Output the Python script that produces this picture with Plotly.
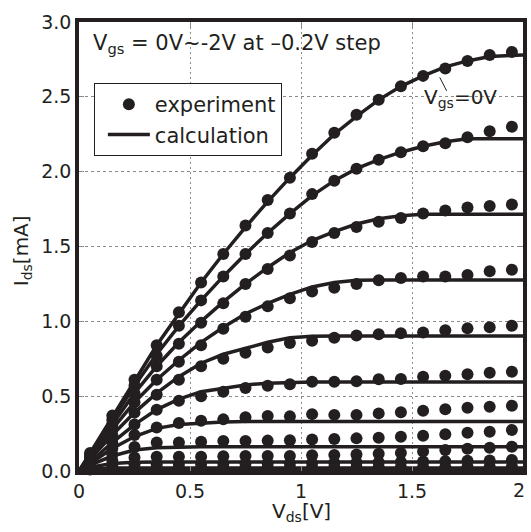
import plotly.graph_objects as go

# ---------------- data ----------------
vds_exp = [0.05, 0.15, 0.25, 0.35, 0.45, 0.55, 0.65, 0.75, 0.85, 0.95,
           1.05, 1.15, 1.25, 1.35, 1.45, 1.55, 1.65, 1.75, 1.85, 1.95]
vds_calc = [0.0, 0.05, 0.15, 0.25, 0.35, 0.45, 0.55, 0.65, 0.75, 0.85, 0.95,
            1.05, 1.15, 1.25, 1.35, 1.45, 1.55, 1.65, 1.75, 1.85, 1.95, 2.0]
vgs_labels = ["0V", "-0.2V", "-0.4V", "-0.6V", "-0.8V", "-1.0V",
              "-1.2V", "-1.4V", "-1.6V", "-1.8V", "-2.0V"]
x_ticks = [0, 0.5, 1, 1.5, 2]
x_tick_text = ["0", "0.5", "1", "1.5", "2"]
y_ticks = [0, 0.5, 1.0, 1.5, 2.0, 2.5, 3.0]

exp_0 = [0.12, 0.37, 0.61, 0.84, 1.06, 1.26, 1.45, 1.64, 1.81, 1.96,
         2.12, 2.26, 2.38, 2.48, 2.57, 2.64, 2.69, 2.74, 2.78, 2.80]
exp_1 = [0.11, 0.34, 0.57, 0.77, 0.97, 1.14, 1.30, 1.45, 1.59, 1.72,
         1.85, 1.94, 2.02, 2.08, 2.13, 2.17, 2.19, 2.23, 2.27, 2.30]
exp_2 = [0.10, 0.31, 0.52, 0.70, 0.85, 0.99, 1.12, 1.25, 1.35, 1.44,
         1.53, 1.59, 1.63, 1.665, 1.69, 1.72, 1.74, 1.76, 1.77, 1.78]
exp_3 = [0.09, 0.28, 0.46, 0.61, 0.73, 0.84, 0.95, 1.03, 1.10, 1.155,
         1.20, 1.225, 1.25, 1.275, 1.29, 1.30, 1.30, 1.31, 1.335, 1.345]
exp_4 = [0.08, 0.24, 0.39, 0.51, 0.61, 0.70, 0.75, 0.79, 0.825, 0.855,
         0.87, 0.89, 0.905, 0.913, 0.92, 0.926, 0.94, 0.953, 0.96, 0.97]
exp_5 = [0.06, 0.19, 0.31, 0.41, 0.47, 0.50, 0.53, 0.555, 0.57, 0.58,
         0.597, 0.597, 0.60, 0.613, 0.615, 0.63, 0.637, 0.646, 0.657, 0.663]
exp_6 = [0.05, 0.15, 0.24, 0.29, 0.32, 0.336, 0.345, 0.359, 0.367, 0.365,
         0.38, 0.375, 0.375, 0.385, 0.392, 0.403, 0.412, 0.423, 0.43, 0.436]
exp_7 = [0.04, 0.11, 0.16, 0.19, 0.19, 0.196, 0.20, 0.20, 0.203, 0.205,
         0.21, 0.214, 0.218, 0.222, 0.229, 0.236, 0.245, 0.256, 0.263, 0.274]
exp_8 = [0.03, 0.07, 0.09, 0.095, 0.096, 0.096, 0.098, 0.10, 0.10, 0.10,
         0.105, 0.107, 0.11, 0.115, 0.12, 0.13, 0.14, 0.148, 0.155, 0.162]
exp_9 = [0.02, 0.035, 0.045, 0.045, 0.046, 0.047, 0.048, 0.05, 0.05, 0.051,
         0.053, 0.055, 0.057, 0.059, 0.061, 0.063, 0.066, 0.068, 0.070, 0.073]
exp_10 = [0.01, 0.015, 0.018, 0.02, 0.02, 0.02, 0.021, 0.021, 0.022, 0.022,
          0.023, 0.023, 0.024, 0.025, 0.025, 0.026, 0.027, 0.028, 0.029, 0.03]

calc_0 = [0.0, 0.12, 0.37, 0.61, 0.84, 1.05, 1.26, 1.45, 1.63, 1.80, 1.96,
          2.11, 2.25, 2.37, 2.48, 2.57, 2.64, 2.70, 2.74, 2.77, 2.78, 2.78]
calc_1 = [0.0, 0.11, 0.34, 0.57, 0.78, 0.97, 1.14, 1.30, 1.45, 1.59, 1.72,
          1.84, 1.94, 2.02, 2.08, 2.13, 2.17, 2.20, 2.22, 2.22, 2.22, 2.22]
calc_2 = [0.0, 0.10, 0.31, 0.52, 0.70, 0.86, 1.00, 1.13, 1.25, 1.36, 1.46,
          1.54, 1.60, 1.65, 1.685, 1.705, 1.715, 1.715, 1.715, 1.715, 1.715, 1.715]
calc_3 = [0.0, 0.09, 0.28, 0.46, 0.61, 0.74, 0.86, 0.96, 1.05, 1.12, 1.18,
          1.23, 1.26, 1.275, 1.276, 1.276, 1.276, 1.276, 1.276, 1.276, 1.276, 1.276]
calc_4 = [0.0, 0.08, 0.24, 0.39, 0.52, 0.63, 0.72, 0.78, 0.82, 0.86, 0.89,
          0.90, 0.902, 0.902, 0.902, 0.902, 0.902, 0.902, 0.902, 0.902, 0.902, 0.902]
calc_5 = [0.0, 0.06, 0.19, 0.31, 0.41, 0.48, 0.53, 0.555, 0.575, 0.587, 0.593,
          0.595, 0.595, 0.595, 0.595, 0.595, 0.595, 0.595, 0.595, 0.595, 0.595, 0.595]
calc_6 = [0.0, 0.05, 0.15, 0.23, 0.285, 0.31, 0.32, 0.328, 0.33, 0.33, 0.33,
          0.33, 0.33, 0.33, 0.33, 0.33, 0.33, 0.33, 0.33, 0.33, 0.33, 0.33]
calc_7 = [0.0, 0.04, 0.10, 0.14, 0.155, 0.16, 0.162, 0.162, 0.162, 0.162, 0.162,
          0.162, 0.162, 0.162, 0.162, 0.162, 0.162, 0.162, 0.162, 0.162, 0.162, 0.162]
calc_8 = [0.0, 0.025, 0.05, 0.058, 0.06, 0.06, 0.06, 0.06, 0.06, 0.06, 0.06,
          0.06, 0.06, 0.06, 0.06, 0.06, 0.06, 0.06, 0.06, 0.06, 0.06, 0.06]
calc_9 = [0.0, 0.012, 0.02, 0.02, 0.02, 0.02, 0.02, 0.02, 0.02, 0.02, 0.02,
          0.02, 0.02, 0.02, 0.02, 0.02, 0.02, 0.02, 0.02, 0.02, 0.02, 0.02]
calc_10 = [0.0, 0.003, 0.004, 0.004, 0.004, 0.004, 0.004, 0.004, 0.004, 0.004, 0.004,
           0.004, 0.004, 0.004, 0.004, 0.004, 0.004, 0.004, 0.004, 0.004, 0.004, 0.004]

exp_series = [exp_0, exp_1, exp_2, exp_3, exp_4, exp_5, exp_6, exp_7, exp_8, exp_9, exp_10]
calc_series = [calc_0, calc_1, calc_2, calc_3, calc_4, calc_5, calc_6, calc_7, calc_8, calc_9, calc_10]

# ---------------- figure ----------------
INK = "#231f20"
FONT = "DejaVu Sans, Liberation Sans, Arial, sans-serif"

fig = go.Figure()

for i, (lab, ys) in enumerate(zip(vgs_labels, calc_series)):
    fig.add_trace(go.Scatter(
        x=vds_calc, y=ys, mode="lines", name="calculation",
        legendgroup="calc", showlegend=(i == 0), legendrank=2,
        line=dict(color=INK, width=3.5), cliponaxis=True,
        hovertext="Vgs=" + lab,
    ))

for i, (lab, ys) in enumerate(zip(vgs_labels, exp_series)):
    fig.add_trace(go.Scatter(
        x=vds_exp, y=ys, mode="markers", name="experiment",
        legendgroup="exp", showlegend=(i == 0), legendrank=1,
        marker=dict(color=INK, size=12, line=dict(width=0)),
        cliponaxis=False, hovertext="Vgs=" + lab,
    ))

axis_common = dict(
    showline=True, linewidth=3.5, linecolor=INK, mirror="ticks",
    ticks="inside", ticklen=5, tickwidth=1, tickcolor="#888888",
    showgrid=True, gridcolor="#8a8a8a", gridwidth=1,
    zeroline=False,
    tickfont=dict(family=FONT, size=19, color=INK),
)

# last x tick label ("2") is drawn as an annotation so it is not cut at the page edge
fig.update_xaxes(range=[0, 2], tickvals=x_ticks,
                 ticktext=x_tick_text[:-1] + [""],
                 griddash="2px,3px", **axis_common)
fig.update_yaxes(range=[0, 3], tickvals=y_ticks,
                 tickformat=".1f", griddash="3px,3px", **axis_common)

fig.update_layout(
    width=531, height=532,
    margin=dict(l=79, r=4, t=22, b=61),
    plot_bgcolor="white", paper_bgcolor="white",
    font=dict(family=FONT, color=INK),
    showlegend=True,
    legend=dict(
        x=0.0335, y=0.864, xanchor="left", yanchor="top",
        bgcolor="white", bordercolor=INK, borderwidth=1,
        font=dict(family=FONT, size=21, color=INK),
        itemwidth=42, indentation=8, tracegroupgap=0,
    ),
    annotations=[
        dict(text="V<sub>gs</sub> = 0V~-2V at \u20130.2V step",
             xref="paper", yref="paper", x=0.026, y=0.985,
             xanchor="left", yanchor="top", showarrow=False,
             font=dict(family=FONT, size=21, color=INK)),
        dict(text="V<sub>gs</sub>=0V",
             xref="x", yref="y", x=1.72, y=2.49,
             xanchor="center", yanchor="middle", showarrow=False,
             font=dict(family=FONT, size=20, color=INK)),
        dict(text="I<sub>ds</sub>[mA]", xref="paper", yref="paper",
             x=-0.094, y=0.49, xanchor="right", yanchor="middle",
             textangle=-90, showarrow=False,
             font=dict(family=FONT, size=20, color=INK)),
        dict(text="V<sub>ds</sub>[V]", xref="paper", yref="paper",
             x=0.5, y=-0.057, xanchor="center", yanchor="top",
             showarrow=False,
             font=dict(family=FONT, size=20, color=INK)),
        dict(text=x_tick_text[-1], xref="x", yref="paper",
             x=x_ticks[-1], y=0, xshift=-4, yshift=-6,
             xanchor="center", yanchor="top", showarrow=False,
             font=dict(family=FONT, size=19, color=INK)),
    ],
    shapes=[
        dict(type="line", xref="x", yref="y", x0=1.625, y0=2.63,
             x1=1.656, y1=2.54, line=dict(color=INK, width=1)),
    ],
)

fig.write_html("out.html", config={"displayModeBar": False},
               post_script="document.body.style.margin='0px';")
